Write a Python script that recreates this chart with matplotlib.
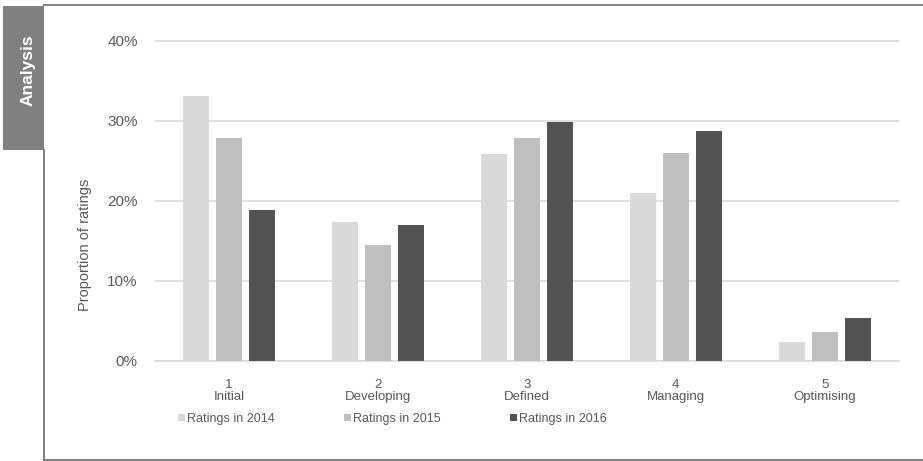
import matplotlib
matplotlib.use("Agg")
import numpy as np
import matplotlib.pyplot as plt
from matplotlib import font_manager
from matplotlib.lines import Line2D
from matplotlib.patches import Rectangle

levels = ["1\nInitial", "2\nDeveloping", "3\nDefined", "4\nManaging", "5\nOptimising"]
series_names = ["Ratings in 2014", "Ratings in 2015", "Ratings in 2016"]
ratings_2014 = [33.1, 17.4, 25.9, 21.0, 2.3]
ratings_2015 = [27.8, 14.5, 27.8, 26.0, 3.6]
ratings_2016 = [18.8, 17.0, 29.8, 28.7, 5.4]
y_ticks = [0, 10, 20, 30, 40]

colors = ["#d9d9d9", "#bfbfbf", "#525252"]
text_grey = "#595959"
frame_grey = "#808080"

W, H = 923, 461

names = {f.name for f in font_manager.fontManager.ttflist}
if "Liberation Sans Narrow" in names:
    narrow = ["Liberation Sans Narrow", "Liberation Sans"]
    cat_size, leg_size, colsp = 10.5, 10.5, 4.3
else:
    narrow = ["Liberation Sans"]
    cat_size, leg_size, colsp = 9.5, 9.0, 5.56

plt.rcParams["font.family"] = ["Liberation Sans", "DejaVu Sans"]

fig = plt.figure(figsize=(W / 100, H / 100), dpi=100)

# plot area, pixel box
left, right, bottom_px, top_px = 154.5, 899.2, 360.7, 39.1
ax = fig.add_axes([left / W, (H - bottom_px) / H, (right - left) / W, (bottom_px - top_px) / H])

x = np.arange(len(levels))
width = 26 / 149
step = 33 / 149
handles = []
for i, (vals, c, name) in enumerate(zip([ratings_2014, ratings_2015, ratings_2016], colors, series_names)):
    b = ax.bar(x + (i - 1) * step, vals, width, color=c, linewidth=0, label=name, zorder=3)
    handles.append(b)

ax.set_xlim(-0.5, len(levels) - 0.5)
ax.set_ylim(0, 40.2)
ax.set_yticks(y_ticks)
ax.set_yticklabels([f"{v}%" for v in y_ticks])
ax.set_xticks(x)
ax.set_xticklabels(levels, family=narrow, fontsize=cat_size, color=text_grey, linespacing=1.05)
ax.tick_params(axis="x", length=0, pad=13)
ax.tick_params(axis="y", length=0, pad=12, labelsize=11, labelcolor=text_grey)
ax.grid(True, axis="y", color="#d9d9d9", linewidth=1.2, zorder=0)
for s in ["top", "right", "left"]:
    ax.spines[s].set_visible(False)
ax.spines["bottom"].set_color("#d9d9d9")
ax.spines["bottom"].set_linewidth(1.2)
ax.set_axisbelow(True)

fig.text(85 / W, 1 - 245 / H, "Proportion of ratings", rotation=90, ha="center", va="center",
         fontsize=10.5, color=text_grey)

leg = fig.legend(handles=handles, loc="center left", bbox_to_anchor=(178 / W, 1 - 419 / H),
                 ncol=3, frameon=False, borderpad=0, borderaxespad=0,
                 handlelength=0.55, handleheight=0.55, handletextpad=0.15, columnspacing=colsp,
                 prop={"family": narrow, "size": leg_size})
for t in leg.get_texts():
    t.set_color(text_grey)

# frame and side tab
def px(xp, yp):
    return xp / W, 1 - yp / H

lw = 1.4
fig.add_artist(Line2D([px(44, 0)[0], 1], [px(0, 4.8)[1]] * 2, color=frame_grey, linewidth=lw))
fig.add_artist(Line2D([px(43.8, 0)[0], 1], [px(0, 459.5)[1]] * 2, color=frame_grey, linewidth=lw))
fig.add_artist(Line2D([px(43.8, 0)[0]] * 2, [px(0, 150)[1], px(0, 460)[1]], color=frame_grey, linewidth=lw))
fig.add_artist(Rectangle(px(3, 150), 41 / W, 144 / H, transform=fig.transFigure,
                         facecolor=frame_grey, edgecolor="none"))
fig.text(px(28, 0)[0], px(0, 70)[1], "Analysis", rotation=90, ha="center", va="center",
         fontsize=12.5, fontweight="bold", color="white")

fig.savefig("out.png", dpi=100)
